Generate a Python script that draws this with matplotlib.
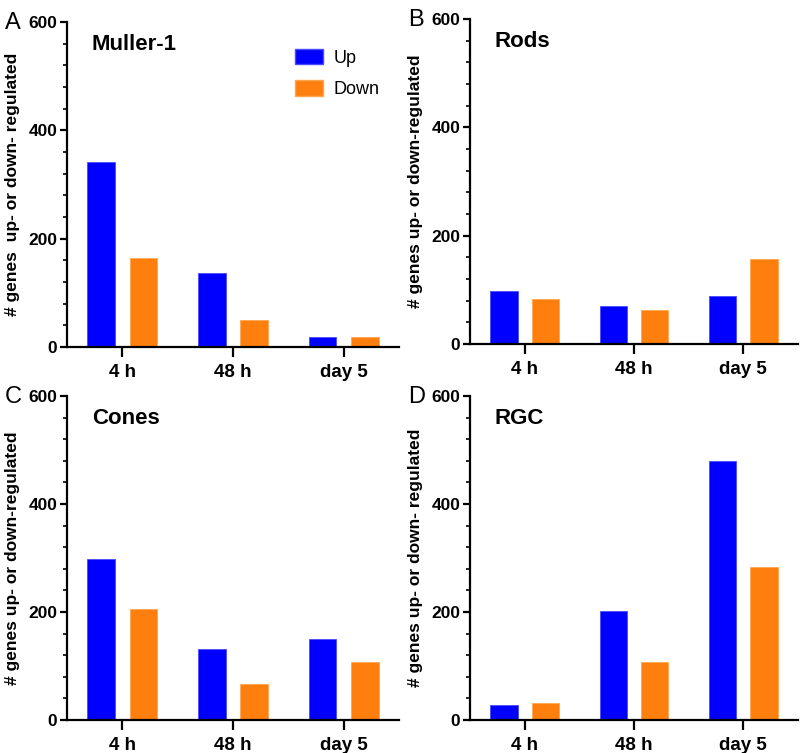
import matplotlib
matplotlib.use("Agg")
import matplotlib.pyplot as plt
from matplotlib.patches import Patch
from matplotlib.ticker import MultipleLocator

plt.rcParams['font.family'] = ['Liberation Sans', 'DejaVu Sans']

#_________data__________________
times = ["4 h", "48 h", "day 5"]
muller_up = [341, 136, 18]
muller_down = [165, 50, 19]
rods_up = [98, 70, 89]
rods_down = [84, 63, 157]
cones_up = [299, 131, 150]
cones_down = [205, 67, 107]
rgc_up = [28, 202, 480]
rgc_down = [31, 107, 284]

panels = [
    ("A", "Muller-1", muller_up, muller_down, "# genes  up- or down- regulated"),
    ("B", "Rods", rods_up, rods_down, "# genes up- or down-regulated"),
    ("C", "Cones", cones_up, cones_down, "# genes up- or down-regulated"),
    ("D", "RGC", rgc_up, rgc_down, "# genes up- or down- regulated"),
]

BLUE = "#0000ff"
ORANGE = "#ff7f0e"

W, H = 800, 753
fig = plt.figure(figsize=(W / 100, H / 100), dpi=100)

# axes boxes in pixels: left, top, right, bottom
boxes = [
    (67, 22, 399, 347),
    (470, 19, 798, 344),
    (67, 396, 399, 720),
    (470, 396, 798, 720),
]

for (letter, title, up, down, ylab), (l, t, r, b) in zip(panels, boxes):
    ax = fig.add_axes([l / W, 1 - b / H, (r - l) / W, (b - t) / H])
    x = list(range(len(times)))
    ax.bar([i - 0.19 for i in x], up, width=0.25, color=BLUE, edgecolor="#4a4aff", linewidth=0.6)
    ax.bar([i + 0.19 for i in x], down, width=0.25, color=ORANGE, edgecolor="#ffa552", linewidth=0.6)

    ax.set_xlim(-0.5, 2.5)
    ax.set_ylim(0, 600)
    ax.set_xticks(x)
    ax.set_xticklabels(times, fontsize=13.5, fontweight="bold")
    ax.yaxis.set_major_locator(MultipleLocator(200))
    ax.yaxis.set_minor_locator(MultipleLocator(40))
    for lab in ax.get_yticklabels():
        lab.set_fontsize(12.5)
        lab.set_fontweight("bold")

    for s in ["top", "right"]:
        ax.spines[s].set_visible(False)
    for s in ["left", "bottom"]:
        ax.spines[s].set_linewidth(1.6)
    ax.tick_params(axis="y", which="major", length=5, width=1.6, pad=2)
    ax.tick_params(axis="y", which="minor", length=3, width=1.2)
    ax.tick_params(axis="x", which="major", length=7, width=1.6, pad=5)

    ax.set_ylabel(ylab, fontsize=12.5, fontweight="bold")
    ax.yaxis.set_label_coords(-47 / (r - l), 0.5)

    ax.text(0.075, 0.93, title, transform=ax.transAxes, fontsize=16,
            fontweight="bold", va="center", ha="left")
    fig.text((l - 62) / W, 1 - (t - 10) / H, letter, fontsize=17,
             va="top", ha="left")

    if letter == "A":
        handles = [Patch(facecolor=BLUE, edgecolor="#4a4aff", label="Up"),
                   Patch(facecolor=ORANGE, edgecolor="#ffa552", label="Down")]
        ax.legend(handles=handles, loc="upper left", bbox_to_anchor=(0.66, 0.945),
                  frameon=False, fontsize=13, handlelength=1.55, handleheight=0.95,
                  handletextpad=0.6, labelspacing=0.75, borderpad=0)

fig.savefig("out.png", dpi=100)
